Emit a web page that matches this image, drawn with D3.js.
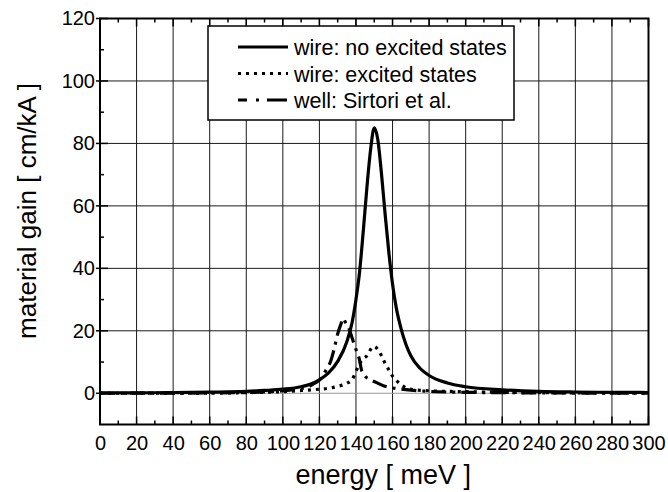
<!DOCTYPE html>
<html>
<head>
<meta charset="utf-8">
<script src="https://cdn.jsdelivr.net/npm/d3@7"></script>
<style>
  body { margin: 0; background: #fff; }
  svg { display: block; font-family: "Liberation Sans", Arial, sans-serif; }
</style>
</head>
<body>
<div id="chart"></div>
<script>
"use strict";

// energy [meV] and gain [cm/kA]
var wireEnergy = [0, 20, 40, 60, 80, 90, 100, 110, 115, 120, 125, 130, 135, 138, 140, 142, 144, 146, 148, 150,
    152, 154, 156, 158, 160, 162, 165, 170, 175, 180, 190, 200, 220, 240, 260, 280, 300];
var wireGain = [0.1, 0.15, 0.2, 0.35, 0.6, 0.9, 1.3, 2.1, 2.9, 4.3, 6.5, 10.2, 16.5, 23, 30, 39, 52, 66, 78, 85,
    81, 70, 57, 45, 35, 27.5, 20, 12, 8, 5.7, 3.3, 2.1, 1.1, 0.6, 0.4, 0.3, 0.25];

var excitedEnergy = [0, 50, 80, 100, 110, 120, 125, 130, 135, 138, 140, 142, 144, 146, 148, 150, 152, 154, 156,
    158, 160, 162, 165, 168, 172, 180, 200, 220, 250, 300];
var excitedGain = [0, 0.05, 0.2, 0.5, 0.9, 1.3, 1.6, 2.2, 3.2, 4.5, 7, 9.5, 11, 12, 14, 15, 14, 12, 9.5,
    7.5, 5.5, 4.2, 2.6, 1.6, 1.1, 0.8, 0.5, 0.3, 0.15, 0.05];

var wellEnergy = [0, 60, 90, 100, 110, 115, 118, 120, 122, 124, 126, 128, 130, 132, 133, 134, 136, 138, 140,
    142, 143, 145, 148, 151, 155, 160, 165, 170, 180, 200, 250, 300];
var wellGain = [0, 0.1, 0.4, 0.8, 1.5, 2.4, 3.4, 4.2, 5.8, 7.8, 10, 14, 19, 22.5, 24, 23, 21, 17.5, 14,
    10.5, 7.5, 5.5, 4.3, 3.5, 2.4, 1.7, 1.3, 1.0, 0.6, 0.3, 0.1, 0];

var legendLabels = ["wire: no excited states", "wire: excited states", "well: Sirtori et al."];
var xTicks = d3.range(0, 301, 20);
var yTicks = d3.range(0, 121, 20);

var width = 668, height = 492;
var margin = { top: 18.5, right: 19.5, bottom: 67.5, left: 100 };

var svg = d3.select("#chart").append("svg")
    .attr("width", width)
    .attr("height", height);

var xScale = d3.scaleLinear().domain([0, 300]).range([margin.left, width - margin.right]);
var yScale = d3.scaleLinear().domain([-10, 120]).range([height - margin.bottom, margin.top]);

var x0 = xScale(0), x1 = xScale(300), y0 = yScale(-10), y1 = yScale(120);

// grid
svg.append("g").selectAll("line")
    .data(xTicks.filter(function (d) { return d > 0 && d < 300; }))
    .enter().append("line")
    .attr("x1", function (d) { return xScale(d); })
    .attr("x2", function (d) { return xScale(d); })
    .attr("y1", y1).attr("y2", y0)
    .attr("stroke", "#1a1a1a").attr("stroke-width", 1);

svg.append("g").selectAll("line")
    .data(yTicks.filter(function (d) { return d < 120; }))
    .enter().append("line")
    .attr("x1", x0).attr("x2", x1)
    .attr("y1", function (d) { return yScale(d); })
    .attr("y2", function (d) { return yScale(d); })
    .attr("stroke", function (d) { return d === 0 ? "#999" : "#1a1a1a"; })
    .attr("stroke-width", 1);

// axes: labelled bottom/left, tick-only top
var minorX = d3.range(10, 300, 20);
var minorY = d3.range(-10, 121, 10).filter(function (d) { return d % 20 !== 0 && d > -10; });

var xAxis = d3.axisBottom(xScale).tickValues(xTicks).tickSize(0).tickPadding(11);
var gx = svg.append("g").attr("transform", "translate(0," + y0 + ")").call(xAxis);
gx.select(".domain").remove();
gx.selectAll("text").attr("font-size", 20).attr("fill", "#000")
    .attr("font-family", "Liberation Sans, Arial, sans-serif");

var yAxis = d3.axisLeft(yScale).tickValues(yTicks).tickSize(0).tickPadding(5);
var gy = svg.append("g").attr("transform", "translate(" + x0 + ",0)").call(yAxis);
gy.select(".domain").remove();
gy.selectAll("text").attr("font-size", 20).attr("fill", "#000")
    .attr("font-family", "Liberation Sans, Arial, sans-serif");

var ticks = svg.append("g").attr("stroke", "#000").attr("stroke-width", 1.5);

// major ticks
xTicks.forEach(function (d) {
    ticks.append("line").attr("x1", xScale(d)).attr("x2", xScale(d)).attr("y1", y1).attr("y2", y1 + 8);
    ticks.append("line").attr("x1", xScale(d)).attr("x2", xScale(d)).attr("y1", y0).attr("y2", y0 - 8);
});
yTicks.forEach(function (d) {
    ticks.append("line").attr("x1", x0 - 4).attr("x2", x0 + 8).attr("y1", yScale(d)).attr("y2", yScale(d));
});
// minor ticks
minorX.forEach(function (d) {
    ticks.append("line").attr("x1", xScale(d)).attr("x2", xScale(d)).attr("y1", y1).attr("y2", y1 + 4);
    ticks.append("line").attr("x1", xScale(d)).attr("x2", xScale(d)).attr("y1", y0).attr("y2", y0 - 4);
});
minorY.forEach(function (d) {
    ticks.append("line").attr("x1", x0).attr("x2", x0 + 4).attr("y1", yScale(d)).attr("y2", yScale(d));
});

// frame
svg.append("rect")
    .attr("x", x0).attr("y", y1)
    .attr("width", x1 - x0).attr("height", y0 - y1)
    .attr("fill", "none").attr("stroke", "#000").attr("stroke-width", 2);

// curves
var line = d3.line()
    .x(function (d) { return xScale(d[0]); })
    .y(function (d) { return yScale(d[1]); })
    .curve(d3.curveMonotoneX);

var series = [
    { e: wireEnergy, g: wireGain, dash: null },
    { e: excitedEnergy, g: excitedGain, dash: "3,5" },
    { e: wellEnergy, g: wellGain, dash: "15,6,3,6" }
];

series.forEach(function (s) {
    var pts = s.e.map(function (e, i) { return [e, s.g[i]]; });
    svg.append("path")
        .datum(pts)
        .attr("d", line)
        .attr("fill", "none")
        .attr("stroke", "#000")
        .attr("stroke-width", 3.2)
        .attr("stroke-dasharray", s.dash);
});

// legend
var legend = svg.append("g");
legend.append("rect")
    .attr("x", 208).attr("y", 26)
    .attr("width", 306).attr("height", 94)
    .attr("fill", "#fff").attr("stroke", "#000").attr("stroke-width", 1.5);

var legendDash = [null, "3,5", "9,9,3,8,20"];
legendLabels.forEach(function (label, i) {
    var cy = 47 + i * 26.5;
    legend.append("line")
        .attr("x1", 238).attr("x2", 288)
        .attr("y1", cy).attr("y2", cy)
        .attr("stroke", "#000").attr("stroke-width", 3.2)
        .attr("stroke-dasharray", legendDash[i]);
    legend.append("text")
        .attr("x", 294).attr("y", cy + 8)
        .attr("font-size", 21.5)
        .text(label);
});

// axis titles
svg.append("text")
    .attr("x", (x0 + x1) / 2 + 9).attr("y", 484)
    .attr("text-anchor", "middle")
    .attr("font-size", 27)
    .text("energy [ meV ]");

svg.append("text")
    .attr("transform", "translate(36," + 211 + ") rotate(-90)")
    .attr("text-anchor", "middle")
    .attr("font-size", 26)
    .text("material gain [ cm/kA ]");
</script>
</body>
</html>
